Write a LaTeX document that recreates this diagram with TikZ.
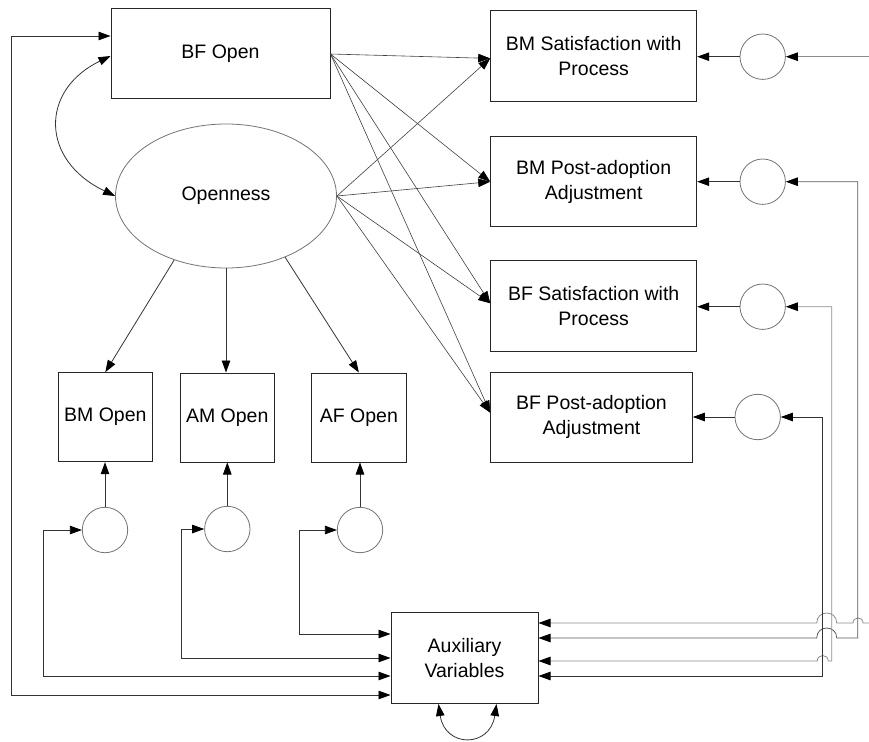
\documentclass[tikz,border=0pt]{standalone}
\usepackage{fontspec}
\setmainfont{Liberation Sans}
\usetikzlibrary{arrows.meta,shapes.geometric,calc}
\begin{document}
\begin{tikzpicture}[x=1pt,y=-1pt,
  font=\fontsize{19.5}{25}\selectfont,
  tip/.tip={Triangle[length=12pt,width=8.5pt,black]},
  box/.style={draw=black!85,line width=1pt,inner sep=0pt,align=center},
  lat/.style={draw=black!55,line width=0.8pt,ellipse,inner sep=0pt},
  res/.style={draw=black!55,line width=0.8pt,circle,minimum size=45.4pt,inner sep=0pt},
  conn/.style={draw=black!80,line width=0.8pt,-tip},
  path/.style={draw=black!75,line width=0.6pt,-tip},
  dbl/.style={draw=black!80,line width=0.8pt,tip-tip},
  ]
\useasboundingbox (0,0) rectangle (869,741);

% boxes
\node[box,minimum width=219pt,minimum height=90pt] (bfo) at (220.5,54) {BF Open};
\node[lat,minimum width=221pt,minimum height=144pt] (open) at (226,196) {Openness};
\node[box,minimum width=206pt,minimum height=91pt] (r1) at (593.7,56.4) {BM Satisfaction with\\Process};
\node[box,minimum width=206pt,minimum height=90pt] (r2) at (593.7,181.7) {BM Post-adoption\\Adjustment};
\node[box,minimum width=206pt,minimum height=91pt] (r3) at (593.7,306.3) {BF Satisfaction with\\Process};
\node[box,minimum width=201.6pt,minimum height=90pt] (r4) at (591.5,417.3) {BF Post-adoption\\Adjustment};
\node[box,minimum width=94pt,minimum height=89pt] (bmo) at (105.3,417.2) {BM Open};
\node[box,minimum width=94.3pt,minimum height=89pt] (amo) at (227.2,417.5) {AM Open};
\node[box,minimum width=94.3pt,minimum height=89pt] (afo) at (358.9,417.5) {AF Open};
\node[box,minimum width=147pt,minimum height=91pt] (aux) at (464.5,658) {Auxiliary\\Variables};

% residual circles
\node[res] (c1) at (762.7,56.7) {};
\node[res] (c2) at (762.7,181.7) {};
\node[res] (c3) at (762.7,306.7) {};
\node[res] (c4) at (757.7,417) {};
\node[res] (cb1) at (105,530) {};
\node[res] (cb2) at (227.3,529) {};
\node[res] (cb3) at (360,530) {};

% helper points
\coordinate (t1) at ([yshift=-2pt]r1.west);
\coordinate (t2) at (r2.west);
\coordinate (t3) at ([yshift=3pt]r3.west);
\coordinate (t4) at ([yshift=4.6pt]r4.west);
\coordinate (ar1) at ([yshift=35pt]aux.east);
\coordinate (ar2) at ([yshift=20pt]aux.east);
\coordinate (ar3) at ([yshift=-3pt]aux.east);
\coordinate (ar4) at ([yshift=-18pt]aux.east);
\coordinate (al1) at ([yshift=24pt]aux.west);
\coordinate (al2) at (aux.west);
\coordinate (al3) at ([yshift=-18pt]aux.west);
\coordinate (al4) at ([yshift=-37pt]aux.west);
\coordinate (e1) at (869,56.7);
\coordinate (e2) at (869,623);

% structural paths
\foreach \t in {t1,t2,t3,t4}{
  \draw[path] (bfo.east) -- (\t);
  \draw[path] (open.east) -- (\t);
}
\draw[conn] (open.231) -- (bmo.north);
\draw[conn] (open.south) -- (open.south |- amo.north);
\draw[conn] (open.314) -- (afo.north);
\draw[dbl] ([yshift=-2pt]bfo.west) .. controls (40,90) and (40,160) .. (open.west);

% residuals to indicators
\draw[conn] (c1.west) -- (c1.west -| r1.east);
\draw[conn] (c2.west) -- (c2.west -| r2.east);
\draw[conn] (c3.west) -- (c3.west -| r3.east);
\draw[conn] (c4.west) -- (c4.west -| r4.east);
\draw[conn] (cb1.north) -- (cb1.north |- bmo.south);
\draw[conn] (cb2.north) -- (cb2.north |- amo.south);
\draw[conn] (cb3.north) -- (cb3.north |- afo.south);

% left connections to auxiliary
\draw[dbl] ([yshift=18pt]bfo.west) -- (11.7,36) -- (11.7,695) -- (al4);
\draw[dbl] (cb1.west) -- (43.3,530) -- (43.3,676) -- (al3);
\draw[dbl] (cb2.west) -- (181.7,529) -- (181.7,658) -- (al2);
\draw[dbl] (cb3.west) -- (299,530) -- (299,634) -- (al1);

% right connections to auxiliary
\draw[conn,draw=black!45] (e1) -- (c1.east);
\draw[conn,draw=black!45] (e2) -- (863,623) .. controls (863,616.3) and (853,616.3) .. (853,623)
   -- (836.7,623) .. controls (836.7,609.7) and (816.7,609.7) .. (816.7,623) -- (ar1);
\draw[dbl,draw=black!65] (c2.east) -- (857.7,181.7) -- (857.7,638) -- (836.7,638)
   .. controls (836.7,624.7) and (816.7,624.7) .. (816.7,638) -- (ar2);
\draw[dbl,draw=black!45] (c3.east) -- (831.7,306.7) -- (831.7,661) -- (828.2,661)
   .. controls (828.2,653.7) and (817.2,653.7) .. (817.2,661) -- (ar3);
\draw[dbl] (c4.east) -- (822.7,417) -- (822.7,676) -- (ar4);

% auxiliary self-covariance
\draw[dbl] ([xshift=-26pt]aux.south) .. controls (445,748) and (490,748) .. ([xshift=32pt]aux.south);
\end{tikzpicture}
\end{document}
